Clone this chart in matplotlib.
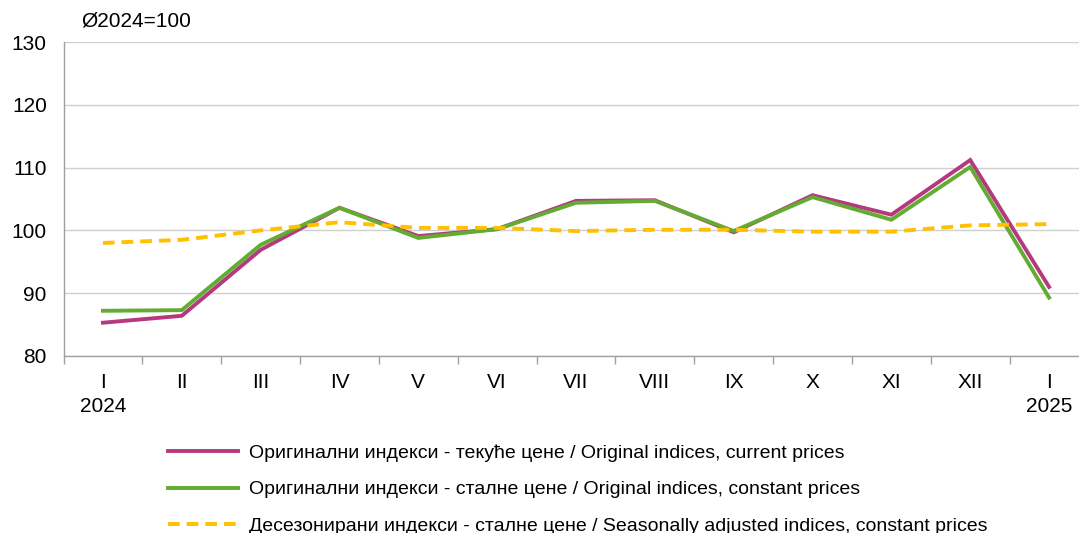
import numpy as np
import matplotlib.pyplot as plt

plt.rcParams['font.family'] = ['Liberation Sans', 'DejaVu Sans']

# months
months = ['I', 'II', 'III', 'IV', 'V', 'VI', 'VII', 'VIII', 'IX', 'X', 'XI', 'XII', 'I']
years = {0: '2024', 12: '2025'}

current = [85.3, 86.4, 96.9, 103.6, 99.1, 100.2, 104.7, 104.8, 99.7, 105.6, 102.5, 111.2, 91.0]
constant = [87.2, 87.3, 97.7, 103.6, 98.8, 100.2, 104.4, 104.7, 99.9, 105.3, 101.7, 110.1, 89.3]
seasonal = [98.0, 98.5, 100.0, 101.3, 100.4, 100.4, 99.9, 100.1, 100.1, 99.8, 99.8, 100.8, 101.0]

labels = ['Оригинални индекси - текуће цене / Original indices, current prices',
          'Оригинални индекси - сталне цене / Original indices, constant prices',
          'Десезонирани индекси - сталне цене / Seasonally adjusted indices, constant prices']

fig = plt.figure(figsize=(10.79, 5.33), dpi=100, facecolor='w')
ax = fig.add_axes([63.5 / 1079, 1 - 356 / 533, 1025 / 1079, 314 / 533])

x = np.arange(len(months))
l1, = ax.plot(x, current, color='#B5397F', lw=2.8, solid_joinstyle='miter')
l2, = ax.plot(x, constant, color='#62AC32', lw=2.8, solid_joinstyle='miter')
l3, = ax.plot(x, seasonal, color='#FFC000', lw=2.8, ls=(0, (3, 1.8)))

ax.set_xlim(-0.5, 12.5)
ax.set_ylim(80, 130)
ax.set_yticks(np.arange(80, 131, 10))
ax.grid(axis='y', color='#D0D0D0', lw=1)
ax.set_axisbelow(True)

ticklabels = [m + ('\n' + years[i] if i in years else '') for i, m in enumerate(months)]
ax.set_xticks(x)
ax.set_xticklabels(ticklabels, fontsize=15, linespacing=1.35, va='top')
ax.set_xticks(np.arange(-0.5, 12.6, 1), minor=True)
ax.tick_params(axis='x', which='major', length=0, pad=12)
ax.tick_params(axis='x', which='minor', length=6, color='#A0A0A0', width=1)
ax.tick_params(axis='y', length=0, labelsize=15, pad=12)

for s in ['top', 'right']:
    ax.spines[s].set_visible(False)
for s in ['left', 'bottom']:
    ax.spines[s].set_color('#A0A0A0')
    ax.spines[s].set_linewidth(1)

fig.text(81 / 1079, 1 - 21 / 533, 'Ø2024=100', fontsize=15, va='center', ha='left')

fig.legend([l1, l2, l3], labels, loc='upper left', bbox_to_anchor=(150 / 1079, 1 - 427 / 533),
           frameon=False, fontsize=14, handlelength=3.6, handletextpad=0.6, labelspacing=0.96)

fig.savefig('out.png', dpi=100)
